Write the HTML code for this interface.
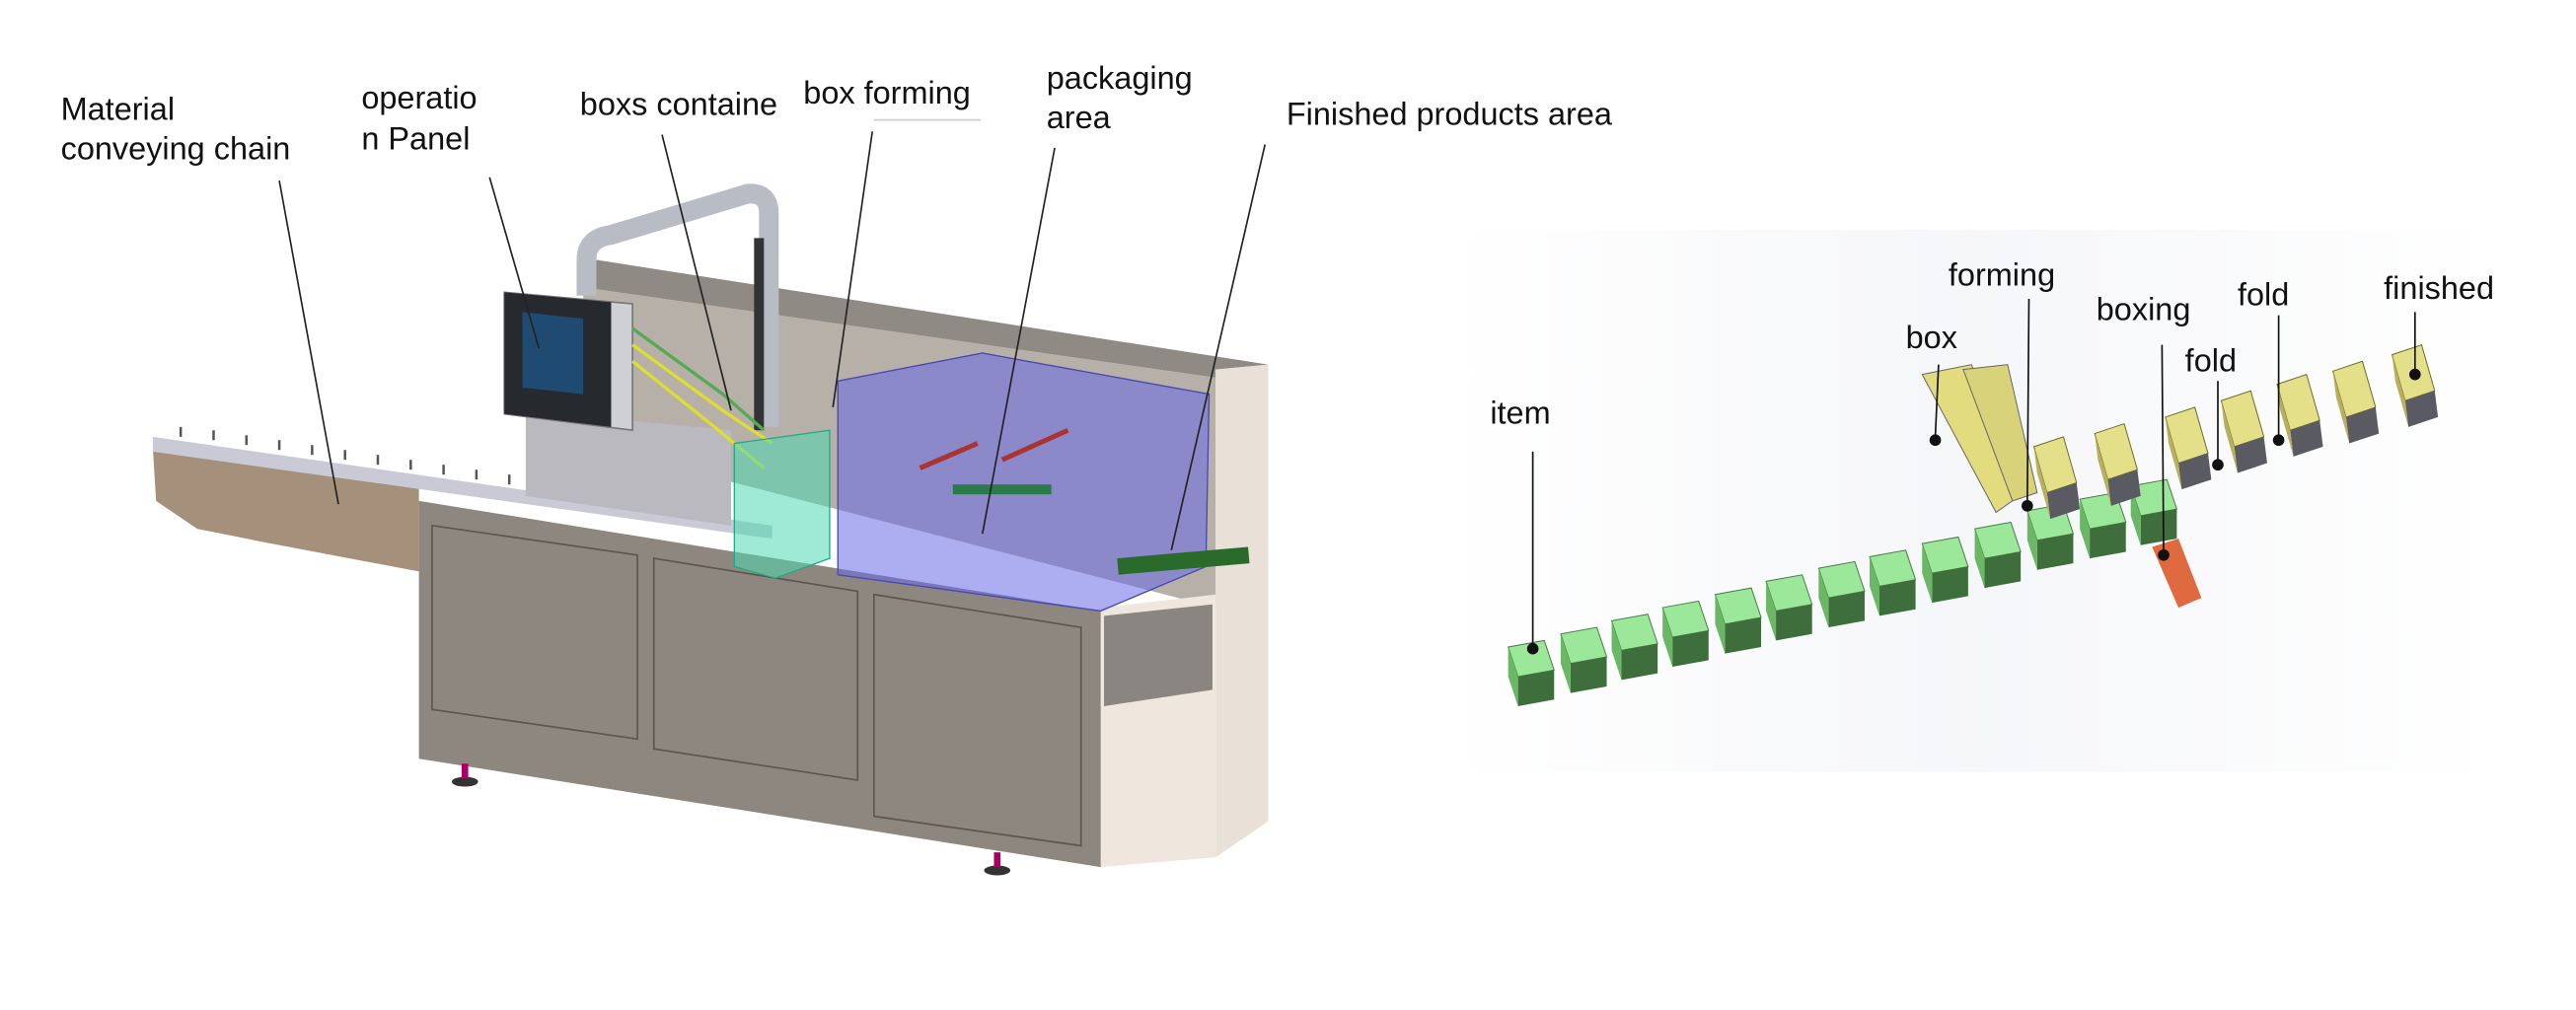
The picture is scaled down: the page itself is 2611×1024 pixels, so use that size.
<!DOCTYPE html>
<html><head><meta charset="utf-8"><style>
html,body{margin:0;padding:0;background:#fff;}
svg{display:block}
text{font-family:"Liberation Sans","DejaVu Sans",sans-serif;font-size:19.5px;fill:#111}
</style></head><body>
<svg width="2611" height="1024" viewBox="0 0 1568 615" preserveAspectRatio="none" xmlns="http://www.w3.org/2000/svg">
<defs>
<g id="cube">
<polygon points="0,4 22,0 28,18 6,22" fill="#9be89a" stroke="#4a7a45" stroke-width="0.6"/>
<polygon points="6,22 28,18 28,36 6,40" fill="#3e6e3c"/>
<polygon points="0,4 6,22 6,40 0,22" fill="#6ab866"/>
</g>
<g id="ybox">
<polygon points="0,6 18,0 26,28 8,34" fill="#e4e08a" stroke="#6b6b2a" stroke-width="0.6"/>
<polygon points="8,34 26,28 28,44 10,50" fill="#5a5a62"/>
<polygon points="0,6 8,34 10,50 2,22" fill="#b8b060"/>
</g>
<linearGradient id="bg" x1="0" y1="0" x2="1" y2="0"><stop offset="0" stop-color="#fff"/><stop offset="0.5" stop-color="#eceef3"/><stop offset="1" stop-color="#fff"/></linearGradient>
</defs>
<rect width="1568" height="615" fill="#fff"/>

<!-- LEFT MACHINE -->
<polygon points="355,157 772,222 740,225 740,230 355,175" fill="#8f8a84"/>
<polygon points="355,175 740,230 740,370 355,270" fill="#b7b0a8"/>
<polygon points="740,225 772,222 772,500 740,522" fill="#e9e1d7"/>
<polygon points="670,370 740,362 740,522 670,528" fill="#efe7dd"/>
<polygon points="672,375 738,368 738,420 672,430" fill="#8a8580"/>
<polygon points="93,272 255,292 255,348 160,330 120,322 95,305" fill="#a5907c"/>
<polygon points="93,266 470,320 470,328 93,275" fill="#c9cad6"/>
<g stroke="#555" stroke-width="1.5">
<line x1="110" y1="266" x2="110" y2="260"/><line x1="130" y1="268" x2="130" y2="262"/><line x1="150" y1="271" x2="150" y2="265"/><line x1="170" y1="274" x2="170" y2="268"/><line x1="190" y1="277" x2="190" y2="271"/><line x1="210" y1="280" x2="210" y2="274"/><line x1="230" y1="283" x2="230" y2="277"/><line x1="250" y1="286" x2="250" y2="280"/><line x1="270" y1="289" x2="270" y2="283"/><line x1="290" y1="292" x2="290" y2="286"/><line x1="310" y1="295" x2="310" y2="289"/><line x1="330" y1="298" x2="330" y2="292"/><line x1="350" y1="301" x2="350" y2="295"/><line x1="370" y1="304" x2="370" y2="298"/><line x1="390" y1="307" x2="390" y2="301"/><line x1="410" y1="310" x2="410" y2="304"/><line x1="430" y1="313" x2="430" y2="307"/>
</g>
<polygon points="320,250 445,262 445,320 320,302" fill="#b9b9bf"/>
<polygon points="255,305 670,372 670,528 255,462" fill="#8e877f"/>
<g fill="none" stroke="#5c5650" stroke-width="1">
<polygon points="263,320 388,338 388,450 263,432"/>
<polygon points="398,340 522,360 522,475 398,456"/>
<polygon points="532,362 658,382 658,515 532,497"/>
</g>
<ellipse cx="283" cy="476" rx="8" ry="3" fill="#333"/><rect x="281" y="465" width="4" height="9" fill="#a06"/>
<ellipse cx="607" cy="530" rx="8" ry="3" fill="#333"/><rect x="605" y="519" width="4" height="9" fill="#a06"/>
<path d="M357,180 L357,158 Q357,145 372,143 L455,118 Q468,117 468,130 L468,260" fill="none" stroke="#b8bcc4" stroke-width="12"/>
<line x1="462" y1="145" x2="462" y2="262" stroke="#333" stroke-width="6"/>
<polygon points="307,178 385,185 385,262 307,252" fill="#cfd0d6" stroke="#777"/>
<polygon points="307,178 372,184 372,260 307,252" fill="#26292e"/>
<polygon points="318,190 355,194 355,240 318,236" fill="#1f4b72"/>
<g fill="none" stroke-width="2"><path d="M385,200 L440,240 L465,262" stroke="#5a5"/><path d="M385,210 L440,250 L470,270" stroke="#dd3"/><path d="M385,220 L435,260 L465,285" stroke="#dd3"/></g>
<polygon points="447,270 505,262 505,340 472,352 447,345" fill="#4fd8b0" fill-opacity="0.55" stroke="#2a8" stroke-width="0.8"/>
<polygon points="510,232 598,215 736,240 734,345 670,372 510,350" fill="#6a6ae8" fill-opacity="0.55" stroke="#4848b0" stroke-width="0.8"/>
<g stroke="#a33" stroke-width="3"><line x1="560" y1="285" x2="595" y2="270"/><line x1="610" y1="280" x2="650" y2="262"/></g>
<rect x="580" y="295" width="60" height="6" fill="#2a7a4a"/>
<rect x="680" y="340" width="80" height="10" fill="#2a6a2a" transform="rotate(-5 680 340)"/>
<text x="37" y="73">Material</text><text x="37" y="97">conveying chain</text>
<text x="220" y="66">operatio</text><text x="220" y="91">n Panel</text>
<text x="353" y="70">boxs containe</text><rect x="477" y="48" width="12" height="32" fill="#fff"/>
<text x="489" y="63">box forming</text><line x1="532" y1="73" x2="597" y2="73" stroke="#ccc"/>
<text x="637" y="54">packaging</text><text x="637" y="78">area</text>
<text x="783" y="76">Finished products area</text>
<g stroke="#222" stroke-width="1">
<line x1="170" y1="110" x2="206" y2="307"/>
<line x1="298" y1="108" x2="328" y2="212"/>
<line x1="403" y1="82" x2="445" y2="250"/>
<line x1="531" y1="80" x2="507" y2="248"/>
<line x1="642" y1="90" x2="598" y2="325"/>
<line x1="770" y1="88" x2="713" y2="335"/>
</g>

<!-- RIGHT DIAGRAM -->
<rect x="880" y="140" width="640" height="330" fill="url(#bg)" opacity="0.5"/>
<use href="#cube" x="918" y="390"/><use href="#cube" x="950" y="382"/><use href="#cube" x="981" y="374"/><use href="#cube" x="1012" y="366"/><use href="#cube" x="1044" y="358"/><use href="#cube" x="1075" y="350"/><use href="#cube" x="1107" y="342"/><use href="#cube" x="1138" y="335"/><use href="#cube" x="1170" y="327"/><use href="#cube" x="1202" y="318"/><use href="#cube" x="1234" y="307"/><use href="#cube" x="1266" y="300"/><use href="#cube" x="1297" y="292"/>
<polygon points="1310,333 1326,328 1340,364 1326,370" fill="#e06a40"/>
<polygon points="1170,228 1200,222 1232,300 1215,312" fill="#e2dc7e" stroke="#666" stroke-width="0.6"/>
<polygon points="1195,225 1222,222 1240,300 1225,305" fill="#d8d27a" stroke="#666" stroke-width="0.6"/>
<use href="#ybox" x="1238" y="266"/><use href="#ybox" x="1275" y="258"/><use href="#ybox" x="1318" y="248"/><use href="#ybox" x="1352" y="238"/><use href="#ybox" x="1386" y="228"/><use href="#ybox" x="1420" y="220"/><use href="#ybox" x="1456" y="210"/>
<text x="907" y="258">item</text>
<text x="1160" y="212">box</text>
<text x="1186" y="174">forming</text>
<text x="1276" y="195">boxing</text>
<text x="1330" y="226">fold</text>
<text x="1362" y="186">fold</text>
<text x="1451" y="182">finished</text>
<g stroke="#111" stroke-width="1">
<line x1="933" y1="275" x2="933" y2="395"/>
<line x1="1235" y1="182" x2="1234" y2="308"/>
<line x1="1316" y1="210" x2="1317" y2="338"/>
<line x1="1350" y1="232" x2="1350" y2="283"/>
<line x1="1387" y1="192" x2="1387" y2="268"/>
<line x1="1470" y1="190" x2="1470" y2="228"/>
<line x1="1180" y1="222" x2="1178" y2="266"/>
</g>
<g fill="#111"><circle cx="933" cy="395" r="3.5"/><circle cx="1178" cy="268" r="3.5"/><circle cx="1234" cy="308" r="3.5"/><circle cx="1317" cy="338" r="3.5"/><circle cx="1350" cy="283" r="3.5"/><circle cx="1387" cy="268" r="3.5"/><circle cx="1470" cy="228" r="3.5"/></g>
</svg>
</body></html>
